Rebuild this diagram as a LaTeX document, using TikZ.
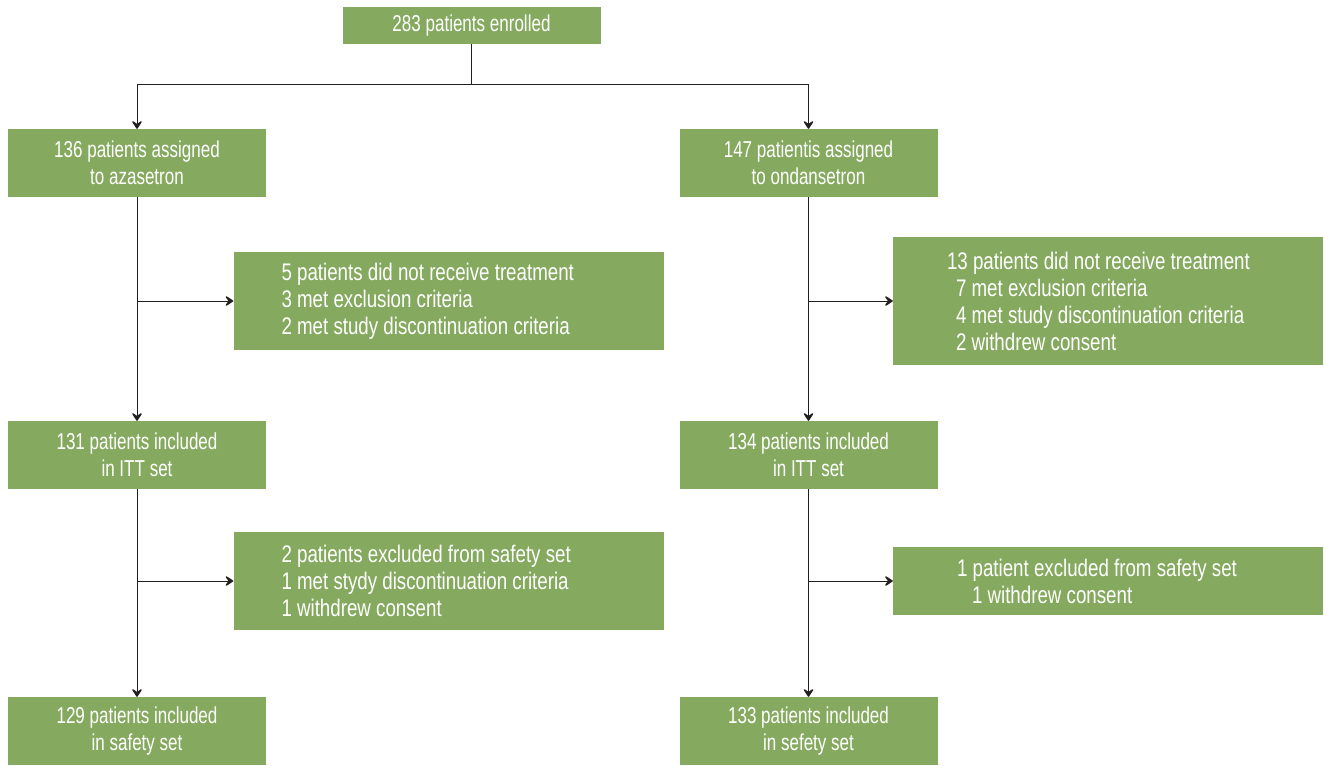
\documentclass[tikz,border=0pt]{standalone}
\usepackage{fontspec}
\setmainfont{Liberation Sans}[FakeStretch=0.74]
\newfontfamily\sidefont{Liberation Sans}[FakeStretch=0.78]
\usetikzlibrary{arrows.meta,positioning}
\definecolor{Leaf}{HTML}{85AA5F}
\definecolor{Ink}{HTML}{231F20}

\begin{document}
\begin{tikzpicture}[x=1pt,y=-1pt,
    >={Stealth[length=10pt,width=13pt,inset=4.5pt,line width=1.6pt,round,fill=Ink]},
    stage/.style={fill=Leaf,text=white,minimum width=258pt,minimum height=68pt,
      align=center,inner sep=0pt,font=\fontsize{23}{27}\selectfont},
    drop/.style={fill=Leaf,text=white,minimum width=430pt,text width=334pt,
      align=flush left,inner sep=0pt,font=\sidefont\fontsize{24}{27}\selectfont},
    link/.style={draw=Ink,line width=1pt},
    flow/.style={link,->}
  ]
    \useasboundingbox (0,0) rectangle (1324,765);
    % enrolment and allocation
    \node[stage,minimum height=37pt] (enrol) at (471.5,25.5) {283 patients enrolled};
    \node[stage] (azaA) at (137,163) {136 patients assigned\\to azasetron};
    \node[stage] (ondA) at (808.5,163) {147 patientis assigned\\to ondansetron};
    % exclusions before ITT
    \node[drop,minimum height=98pt] (azaX) at (448.5,301)
      {5 patients did not receive treatment\\3 met exclusion criteria\\2 met study discontinuation criteria};
    \node[drop,minimum height=128pt] (ondX) at (1108,301)
      {\hspace*{6pt}13 patients did not receive treatment\\\hspace*{15pt}7 met exclusion criteria\\
       \hspace*{15pt}4 met study discontinuation criteria\\\hspace*{15pt}2 withdrew consent};
    \node[stage] (azaI) at (137,455) {131 patients included\\in ITT set};
    \node[stage] (ondI) at (808.5,455) {134 patients included\\in ITT set};
    % exclusions before safety
    \node[drop,minimum height=98pt] (azaY) at (448.5,581)
      {2 patients excluded from safety set\\1 met stydy discontinuation criteria\\1 withdrew consent};
    \node[drop,minimum height=68pt] (ondY) at (1108,581)
      {\hspace*{16pt}1 patient excluded from safety set\\\hspace*{31pt}1 withdrew consent};
    \node[stage] (azaS) at (137,731) {129 patients included\\in safety set};
    \node[stage] (ondS) at (808.5,731) {133 patients included\\in sefety set};

    \draw[link] (enrol.south) -- ++(0,40) coordinate (split);
    \draw[flow] (split) -| (azaA.north);
    \draw[flow] (split) -| (ondA.north);
    \foreach \arm in {aza,ond}{
      \draw[flow] (\arm A.south) -- (\arm I.north);
      \draw[flow] (\arm I.south) -- (\arm S.north);
      \draw[flow] (\arm A.south |- \arm X.west) -- (\arm X.west);
      \draw[flow] (\arm I.south |- \arm Y.west) -- (\arm Y.west);
    }
  \end{tikzpicture}
\end{document}
